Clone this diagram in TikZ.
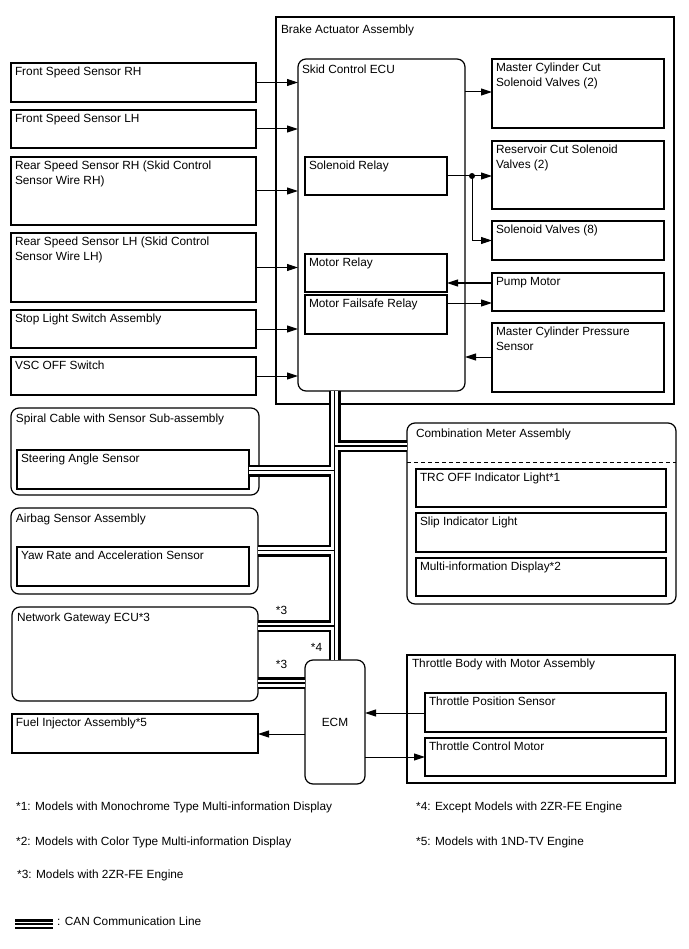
\documentclass[tikz,border=0pt]{standalone}
\usepackage{fontspec}
\setmainfont{Liberation Sans}
\usetikzlibrary{arrows.meta,calc,fit}
\newcommand{\BX}[8][4]{%
  \node[#2, fit={(#4,#5) (#6,#7)}] (#3) {};
  \node[txt] (#3-l) at ($(#3.north west)+(#1,4)$) {#8};}
\newcommand{\RBX}[8][5]{%
  \node[#2, fit={(#4,#5) (#6,#7)}] (#3) {};
  \node[txt] (#3-l) at ($(#3.north west)+(#1,5.5)$) {#8};}
\begin{document}
\begin{tikzpicture}[x=1pt,y=-1pt,
  every node/.style={font=\fontsize{11.85}{14.7}\selectfont},
  box/.style={draw, line width=1.2pt, inner sep=0pt, outer sep=0pt, rectangle},
  rbox/.style={box, rounded corners=8pt},
  txt/.style={anchor=north west, inner sep=0pt, outer sep=0pt, align=left},
  note/.style={anchor=base west, inner sep=0pt},
  arr/.style={line width=1pt, -{Triangle[length=11pt,width=7pt]}},
  ln/.style={line width=1pt}]
\useasboundingbox (0,0) rectangle (688,949);
\fill[white] (0,0) rectangle (688,949);

% Brake actuator assembly
\node[box, fit={(276,17) (674,404)}] (baa) {};
\node[txt] (baa-l) at ($(baa.north west)+(5,8)$) {Brake Actuator Assembly};
\RBX[4]{rbox}{ecu}{298}{59}{465}{391}{Skid Control ECU}
\BX{box}{srel}{305}{157}{447}{195}{Solenoid Relay}
\BX{box}{mrel}{305}{254}{447}{292}{Motor Relay}
\BX{box}{mfs}{305}{295}{447}{334}{Motor Failsafe Relay}
\BX{box}{mccut}{492}{59}{664}{128}{Master Cylinder Cut\\Solenoid Valves (2)}
\BX{box}{rescut}{492}{141}{664}{209}{Reservoir Cut Solenoid\\Valves (2)}
\BX{box}{sv8}{492}{221}{664}{260}{Solenoid Valves (8)}
\BX{box}{pump}{492}{273}{664}{311}{Pump Motor}
\BX{box}{mcps}{492}{323}{664}{392}{Master Cylinder Pressure\\Sensor}

% left sensors
\BX{box}{fsrh}{11}{63}{256}{102}{Front Speed Sensor RH}
\BX{box}{fslh}{11}{110}{256}{148}{Front Speed Sensor LH}
\BX{box}{rsrh}{11}{157}{256}{225}{Rear Speed Sensor RH (Skid Control\\Sensor Wire RH)}
\BX{box}{rslh}{11}{233}{256}{302}{Rear Speed Sensor LH (Skid Control\\Sensor Wire LH)}
\BX{box}{stop}{11}{310}{256}{348}{Stop Light Switch Assembly}
\BX{box}{vsc}{11}{357}{256}{395}{VSC OFF Switch}

% CAN members left
\RBX{rbox}{spiral}{11}{408}{259}{495}{Spiral Cable with Sensor Sub-assembly}
\BX{box}{steer}{17}{450}{249}{489}{Steering Angle Sensor}
\RBX{rbox}{airbag}{11}{508}{258}{594}{Airbag Sensor Assembly}
\BX{box}{yaw}{17}{547}{249}{586}{Yaw Rate and Acceleration Sensor}
\RBX{rbox}{ngw}{12}{607}{258}{701}{Network Gateway ECU*3}
\BX{box}{fuel}{12}{714}{258}{753}{Fuel Injector Assembly*5}

% ECM
\node[rbox, fit={(305,660) (365,784)}, label={center:ECM}] (ecm) {};

% Combination meter
\RBX[9]{rbox}{comb}{407}{423}{676}{604}{Combination Meter Assembly}
\draw[line width=1pt, dash pattern=on 4pt off 3pt] (comb.west |- 0,462) -- (comb.east |- 0,462);
\BX{box}{trc}{416}{469}{666}{507}{TRC OFF Indicator Light*1}
\BX{box}{slip}{416}{513}{666}{552}{Slip Indicator Light}
\BX{box}{mid}{416}{558}{666}{596}{Multi-information Display*2}

% Throttle body
\BX[5]{box}{thr}{407}{655}{675}{783}{Throttle Body with Motor Assembly}
\BX{box}{tps}{425}{693}{666}{732}{Throttle Position Sensor}
\BX{box}{tcm}{425}{738}{666}{776}{Throttle Control Motor}

% arrows to skid control ECU
\foreach \n in {fsrh,fslh,rsrh,rslh,stop,vsc}
  \draw[arr] (\n.east) -- (\n.east -| ecu.west);
\draw[arr] (ecu.east |- 0,92) -- (mccut.west |- 0,92);
\coordinate (dot) at (472,176);
\draw[ln] (srel.east |- dot) -- (dot);
\draw[arr] (dot) -- (dot -| rescut.west);
\draw[arr] (dot) |- (sv8.west);
\fill (dot) circle (3);
\draw[arr] (pump.west |- 0,283) -- (mrel.east |- 0,283);
\draw[arr] (mfs.east |- 0,303) -- (pump.west |- 0,303);
\draw[arr] (mcps.west |- 0,357) -- (ecu.east |- 0,357);

% ECM arrows
\draw[arr] (ecm.west |- 0,734) -- (fuel.east |- 0,734);
\draw[arr] (tps.west |- 0,713) -- (ecm.east |- 0,713);
\draw[arr] (ecm.east |- 0,757) -- (tcm.west |- 0,757);

% CAN bus
\coordinate (bx) at (334.5,0);
\coordinate (ycm) at (0,446);
\coordinate (yst) at (0,470.5);
\coordinate (yyaw) at (0,550.5);
\coordinate (yng1) at (0,626);
\coordinate (yng2) at (0,683);
\foreach \w/\c in {12/black,7/white,1.3/black}{
  \draw[line width=\w pt, draw=\c]
    (ecu.south -| bx) -- (ecm.north -| bx)
    (bx |- ycm) -- (comb.west |- ycm)
    (bx |- yst) -- (steer.east |- yst)
    (bx |- yyaw) -- (airbag.east |- yyaw)
    (bx |- yng1) -- (ngw.east |- yng1)
    (ngw.east |- yng2) -- (ecm.west |- yng2);
}
\node (s3a) at (281.5,610) {*3};
\node (s4) at (316.5,647) {*4};
\node (s3b) at (281.5,664) {*3};

% notes
\node[note] (n1) at (16,810) {*1: Models with Monochrome Type Multi-information Display};
\node[note] (n4) at (416,810) {*4: Except Models with 2ZR-FE Engine};
\node[note] (n2) at (16,845) {*2: Models with Color Type Multi-information Display};
\node[note] (n5) at (416,845) {*5: Models with 1ND-TV Engine};
\node[note] (n3) at (17,878) {*3: Models with 2ZR-FE Engine};

% legend
\coordinate (lg1) at (15,924);
\coordinate (lg2) at (53,924);
\foreach \w/\c in {9.5/black,5/white,1.4/black}{
  \draw[line width=\w pt, draw=\c] (lg1) -- (lg2);
}
\node[note] (lgt) at (57,925) {: CAN Communication Line};
\end{tikzpicture}
\end{document}
